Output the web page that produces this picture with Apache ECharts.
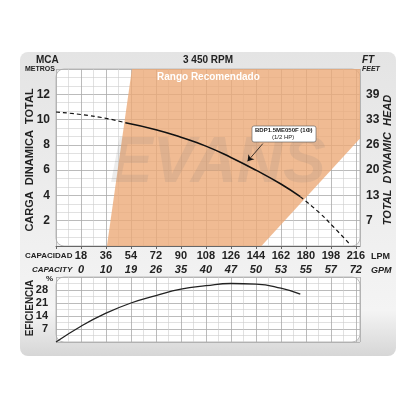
<!DOCTYPE html>
<html><head><meta charset="utf-8">
<script src="https://cdn.jsdelivr.net/npm/echarts@6/dist/echarts.min.js"></script>
<style>html,body{margin:0;background:#fff}#c{width:416px;height:416px}</style>
</head><body><div id="c"></div>
<script>
// head curve, LPM vs metros
var headFlow = [0, 18, 36, 50, 72, 90, 108, 126, 144, 162, 176, 190, 200, 212];
var headM = [10.6, 10.4, 10.1, 9.75, 9.2, 8.6, 7.9, 7.0, 6.0, 4.9, 3.9, 2.6, 1.5, 0.1];
// efficiency curve
var effFlow = [0, 18, 36, 54, 72, 90, 108, 126, 144, 162, 176];
var effPct = [0, 8.5, 15.5, 21, 25, 28.5, 30.3, 31.5, 31.2, 29, 25.8];
// recommended range outline [LPM, m]
var rangePoly = [[36.7, 0], [54.7, 14], [219, 14], [219, 8.5], [148, 0]];
var lpmTicks = [18, 36, 54, 72, 90, 108, 126, 144, 162, 180, 198, 216];
var gpmTicks = ['0', '10', '19', '26', '35', '40', '47', '50', '53', '55', '57', '72'];
var ftTicks = { 2: '7', 4: '13', 6: '20', 8: '26', 10: '33', 12: '39' };

var solidStart = 3, solidEnd = 10;
function pairs(xs, ys, a, b) {
  var out = [];
  for (var i = a; i <= b; i++) out.push([xs[i], ys[i]]);
  return out;
}

var F = 'Liberation Sans';
var lab = { fontFamily: F, fontWeight: 'bold', fontSize: 11, color: '#222' };
var grid = { lineStyle: { color: '#aaa', width: 0.8 } };
var minor = { show: true, lineStyle: { color: '#ccc', width: 0.6 } };

function xAx(gi, show) {
  return {
    type: 'value', gridIndex: gi, min: 0, max: 219, interval: 18,
    axisLine: { show: false }, axisTick: { show: false },
    axisLabel: { show: show, margin: 4, ...lab, showMaxLabel: false,
      formatter: function (v) { return lpmTicks.indexOf(v) < 0 ? '' : v; } },
    splitLine: { show: true, ...grid },
    minorTick: { show: false, splitNumber: 2 }, minorSplitLine: minor
  };
}

var chart = echarts.init(document.getElementById('c'));
chart.setOption({
  animation: false,
  grid: [
    { left: 56, right: 56, top: 69, height: 177 },
    { left: 56, right: 56, top: 277, height: 65 }
  ],
  xAxis: [
    xAx(0, true),
    {
      type: 'value', gridIndex: 0, min: 0, max: 219, interval: 18, position: 'bottom', offset: 15,
      axisLine: { show: true, lineStyle: { color: '#666', width: 1 } },
      axisTick: { show: true, length: 3, lineStyle: { color: '#666' } },
      axisLabel: { margin: 3, ...lab, fontStyle: 'italic', showMaxLabel: false,
        formatter: function (v) { var i = lpmTicks.indexOf(v); return i < 0 ? '' : gpmTicks[i]; } },
      splitLine: { show: false }
    },
    xAx(1, false)
  ],
  yAxis: [
    {
      type: 'value', gridIndex: 0, min: 0, max: 14, interval: 2,
      axisLine: { show: false }, axisTick: { show: false },
      axisLabel: { ...lab, fontSize: 12, margin: 6, formatter: function (v) { return v === 0 || v === 14 ? '' : v; } },
      splitLine: { show: true, ...grid },
      minorTick: { show: false, splitNumber: 3 }, minorSplitLine: minor
    },
    {
      type: 'value', gridIndex: 0, min: 0, max: 14, interval: 2, position: 'right',
      axisLine: { show: false }, axisTick: { show: false },
      axisLabel: { ...lab, fontSize: 12, margin: 6, formatter: function (v) { return ftTicks[v] || ''; } },
      splitLine: { show: false }
    },
    {
      type: 'value', gridIndex: 1, min: 0, max: 35, interval: 7,
      axisLine: { show: false }, axisTick: { show: false },
      axisLabel: { ...lab, margin: 8, formatter: function (v) { return v === 0 || v === 35 ? '' : v; } },
      splitLine: { show: true, ...grid },
      minorTick: { show: false, splitNumber: 2 }, minorSplitLine: minor
    }
  ],
  graphic: [
    { type: 'rect', z: -20, shape: { x: 20, y: 52, width: 376, height: 304, r: 8 },
      style: { fill: new echarts.graphic.LinearGradient(0, 0, 0, 1, [
        { offset: 0, color: '#e4e4e4' }, { offset: 0.85, color: '#f4f4f4' }, { offset: 1, color: '#d6d6d6' }]) } },
    { type: 'rect', z: -19, shape: { x: 56, y: 69, width: 304, height: 177, r: 8 }, style: { fill: '#fff', stroke: '#bbb' } },
    { type: 'rect', z: -19, shape: { x: 56, y: 277, width: 304, height: 65, r: 8 }, style: { fill: '#fff', stroke: '#bbb' } },
    { type: 'text', z: 2, left: 110, top: 132, style: { text: 'EVANS', font: 'bold italic 64px "Liberation Sans"', fill: 'rgba(120,120,120,0.14)' } },
    { type: 'text', left: 36, top: 55, style: { text: 'MCA', font: 'bold 10px "Liberation Sans"', fill: '#222' } },
    { type: 'text', left: 25, top: 66, style: { text: 'METROS', font: 'bold 7px "Liberation Sans"', fill: '#222' } },
    { type: 'text', left: 'center', top: 55, style: { text: '3 450 RPM', font: 'bold 10px "Liberation Sans"', fill: '#222' } },
    { type: 'text', left: 362, top: 55, style: { text: 'FT', font: 'bold italic 10px "Liberation Sans"', fill: '#222' } },
    { type: 'text', left: 362, top: 66, style: { text: 'FEET', font: 'bold italic 7px "Liberation Sans"', fill: '#222' } },
    { type: 'text', left: 157, top: 72, z: 10, style: { text: 'Rango Recomendado', font: 'bold 10px "Liberation Sans"', fill: '#fff' } },
    { type: 'text', x: 30, y: 160, rotation: Math.PI / 2, style: { text: 'CARGA  DINAMICA  TOTAL', font: 'bold 11px "Liberation Sans"', fill: '#222', align: 'center', verticalAlign: 'middle' } },
    { type: 'text', x: 388, y: 160, rotation: Math.PI / 2, style: { text: 'TOTAL  DYNAMIC  HEAD', font: 'bold italic 11px "Liberation Sans"', fill: '#222', align: 'center', verticalAlign: 'middle' } },
    { type: 'text', left: 25, top: 252, style: { text: 'CAPACIDAD', font: 'bold 8px "Liberation Sans"', fill: '#222' } },
    { type: 'text', left: 32, top: 266, style: { text: 'CAPACITY', font: 'bold italic 8px "Liberation Sans"', fill: '#222' } },
    { type: 'text', left: 371, top: 252, style: { text: 'LPM', font: 'bold 9px "Liberation Sans"', fill: '#222' } },
    { type: 'text', left: 371, top: 266, style: { text: 'GPM', font: 'bold italic 9px "Liberation Sans"', fill: '#222' } },
    { type: 'text', left: 46, top: 275, style: { text: '%', font: 'bold 8px "Liberation Sans"', fill: '#222' } },
    { type: 'text', x: 30, y: 308, rotation: Math.PI / 2, style: { text: 'EFICIENCIA', font: 'bold 10px "Liberation Sans"', fill: '#222', align: 'center', verticalAlign: 'middle' } },
    { type: 'rect', z: 10, shape: { x: 252, y: 126, width: 64, height: 16, r: 2 }, style: { fill: '#fff', stroke: '#555', lineWidth: 0.6 } },
    { type: 'text', z: 11, left: 255, top: 127, style: { text: 'BDP1.5ME050F (1Φ)', font: 'bold 6px "Liberation Sans"', fill: '#222' } },
    { type: 'text', z: 11, left: 272, top: 134, style: { text: '(1/2 HP)', font: '6px "Liberation Sans"', fill: '#222' } }
  ],
  series: [
    {
      type: 'custom', xAxisIndex: 0, yAxisIndex: 0, z: 1, silent: true,
      data: [0],
      renderItem: function (params, api) {
        return { type: 'polygon', shape: { points: rangePoly.map(function (p) { return api.coord(p); }) },
          style: { fill: 'rgba(236,170,120,0.8)' } };
      }
    },
    { type: 'line', xAxisIndex: 0, yAxisIndex: 0, smooth: true, symbol: 'none', z: 5,
      data: pairs(headFlow, headM, 0, solidStart), lineStyle: { color: '#111', width: 1.2, type: [4, 3] } },
    { type: 'line', xAxisIndex: 0, yAxisIndex: 0, smooth: true, symbol: 'none', z: 5,
      data: pairs(headFlow, headM, solidStart, solidEnd), lineStyle: { color: '#111', width: 1.6 },
      markLine: { symbol: ['none', 'arrow'], symbolSize: 6, silent: true, label: { show: false },
        lineStyle: { color: '#111', width: 0.8, type: 'solid' },
        data: [[{ coord: [149, 8.1] }, { coord: [138, 6.7] }]] } },
    { type: 'line', xAxisIndex: 0, yAxisIndex: 0, smooth: true, symbol: 'none', z: 5,
      data: pairs(headFlow, headM, solidEnd, headFlow.length - 1), lineStyle: { color: '#111', width: 1.2, type: [4, 3] } },
    { type: 'line', xAxisIndex: 2, yAxisIndex: 2, smooth: true, symbol: 'none',
      data: pairs(effFlow, effPct, 0, effFlow.length - 1), lineStyle: { color: '#222', width: 1.3 } }
  ]
});
</script></body></html>
